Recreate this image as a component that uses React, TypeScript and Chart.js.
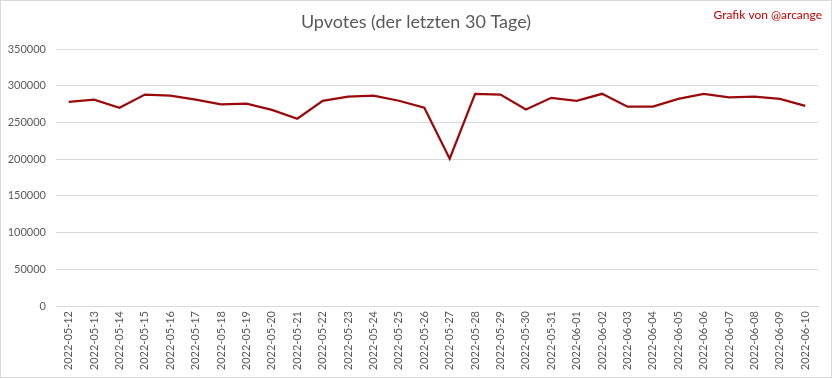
import React, { useEffect, useRef } from "react";
import { Chart, registerables } from "chart.js";

Chart.register(...registerables);

const TITLE = "Upvotes (der letzten 30 Tage)";
const CREDIT = "Grafik von @arcange";

const dates = [
  "2022-05-12", "2022-05-13", "2022-05-14", "2022-05-15", "2022-05-16",
  "2022-05-17", "2022-05-18", "2022-05-19", "2022-05-20", "2022-05-21",
  "2022-05-22", "2022-05-23", "2022-05-24", "2022-05-25", "2022-05-26",
  "2022-05-27", "2022-05-28", "2022-05-29", "2022-05-30", "2022-05-31",
  "2022-06-01", "2022-06-02", "2022-06-03", "2022-06-04", "2022-06-05",
  "2022-06-06", "2022-06-07", "2022-06-08", "2022-06-09", "2022-06-10",
];

const upvotes = [
  278000, 281000, 270000, 288000, 286500,
  281000, 274500, 275500, 267000, 255000,
  279500, 285000, 286500, 279500, 270000,
  200500, 289000, 288000, 267500, 283500,
  279500, 289000, 271500, 271500, 282000,
  289000, 284000, 285000, 282000, 272500,
];

const yMin = 0;
const yMax = 350000;
const yStep = 50000;

const FONT = "Lato, 'Open Sans', sans-serif";

export default function App() {
  const canvasRef = useRef<HTMLCanvasElement | null>(null);

  useEffect(() => {
    document.body.style.margin = "0";
    const canvas = canvasRef.current;
    if (!canvas) return;

    const decor = {
      id: "decor",
      afterDraw(chart: any) {
        const ctx = chart.ctx;
        ctx.save();
        ctx.strokeStyle = "#d9d9d9";
        ctx.lineWidth = 1;
        ctx.strokeRect(0.5, 0.5, 831, 377);
        ctx.fillStyle = "#595959";
        ctx.font = `18px ${FONT}`;
        ctx.textAlign = "center";
        ctx.textBaseline = "middle";
        ctx.fillText(TITLE, 416, 22);
        ctx.fillStyle = "#c00000";
        ctx.font = `12px ${FONT}`;
        ctx.textAlign = "right";
        ctx.fillText(CREDIT, 822, 15);
        ctx.restore();
      },
    };

    const chart = new Chart(canvas, {
      type: "line",
      data: {
        labels: dates,
        datasets: [
          {
            data: upvotes,
            borderColor: "#9a0a0a",
            backgroundColor: "#9a0a0a",
            borderWidth: 2.25,
            pointRadius: 0,
            tension: 0,
          },
        ],
      },
      options: {
        animation: false,
        responsive: false,
        maintainAspectRatio: false,
        layout: { padding: { top: 49, right: 14, bottom: 0, left: 0 } },
        plugins: {
          legend: { display: false },
          title: { display: false },
          tooltip: { enabled: false },
        },
        scales: {
          x: {
            offset: true,
            grid: { display: false, drawTicks: false },
            border: { display: true, color: "#d9d9d9" },
            ticks: {
              color: "#595959",
              font: { family: FONT, size: 11 },
              maxRotation: 90,
              minRotation: 90,
              autoSkip: false,
              padding: 5,
            },
            afterFit: (s: any) => {
              s.height = 73;
            },
          },
          y: {
            min: yMin,
            max: yMax,
            grid: { color: "#d9d9d9", drawTicks: false },
            border: { display: false },
            ticks: {
              stepSize: yStep,
              color: "#595959",
              font: { family: FONT, size: 11 },
              padding: 10,
              callback: (v: any) => String(v),
            },
            afterFit: (s: any) => {
              s.width = 56;
            },
          },
        },
      },
      plugins: [decor],
    });

    return () => chart.destroy();
  }, []);

  return (
    <div style={{ width: 832, height: 379, background: "#fff" }}>
      <canvas ref={canvasRef} width={832} height={379} style={{ display: "block" }} />
    </div>
  );
}
